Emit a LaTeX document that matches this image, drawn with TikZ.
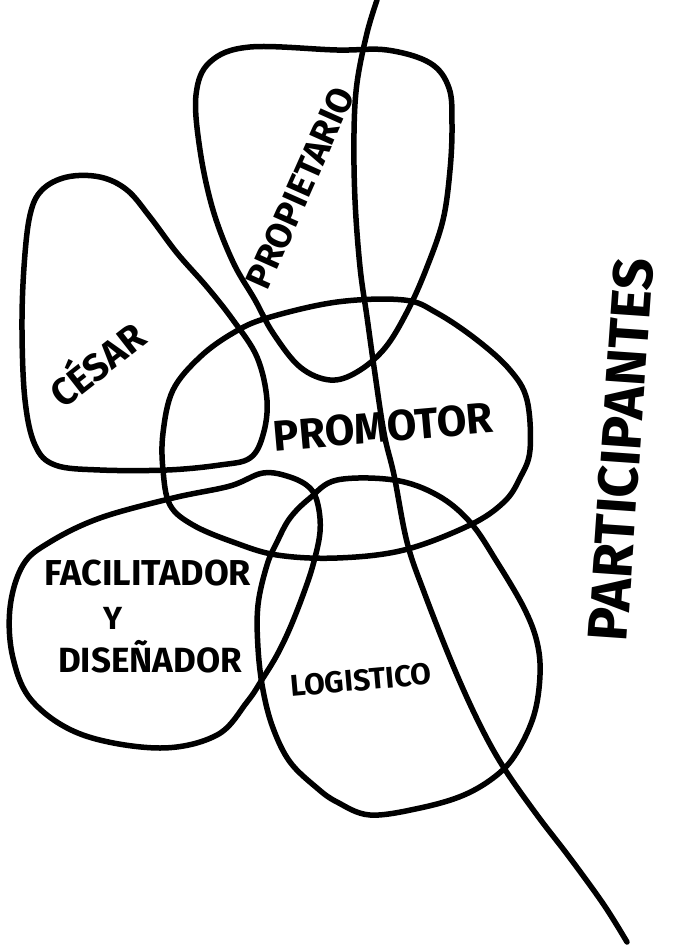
\documentclass[tikz,border=0pt]{standalone}
\usepackage{fontspec}
\setmainfont{Fira Sans}

\begin{document}
\begin{tikzpicture}[
  x=1pt, y=-1pt,
  blob/.style={line width=5.5pt, line join=round, line cap=round},
  tag/.style={inner sep=0pt, font=\bfseries\fontsize{#1}{#1}\selectfont},
]
\useasboundingbox (0,0) rectangle (674,951);

% shapes
\draw[blob] plot[smooth cycle, tension=0.6] coordinates {
  (250,47) (337,50) (387,50) (430,63) (449,88) (452,125) (450,170)
  (443,220) (427,267) (408,310) (385,348) (357,372) (330,380) (300,367)
  (273,333) (255,300) (233,262) (213,210) (200,150) (196,95) (210,62)};
\draw[blob] plot[smooth cycle, tension=0.6] coordinates {
  (67,177) (100,177) (127,190) (150,217) (177,253) (207,287) (233,320)
  (257,357) (267,400) (263,435) (250,458) (220,465) (167,470) (100,470)
  (55,465) (35,445) (25,400) (22,330) (24,267) (30,215) (42,190)};
\draw[blob] plot[smooth cycle, tension=0.6] coordinates {
  (337,302) (404,300) (437,313) (477,340) (510,370) (527,400) (530,450)
  (520,478) (504,502) (470,525) (404,550) (337,558) (277,555) (233,542)
  (193,525) (170,505) (163,470) (163,433) (173,390) (200,357) (233,333)
  (267,318)};
\draw[blob] plot[smooth cycle, tension=0.6] coordinates {
  (230,486) (263,473) (290,477) (310,488) (318,505) (320,532) (313,565)
  (303,595) (290,628) (277,655) (263,678) (247,702) (217,735) (160,748)
  (83,735) (33,702) (13,658) (10,608) (23,565) (50,542) (100,518)
  (173,498)};
\draw[blob] plot[smooth cycle, tension=0.6] coordinates {
  (337,480) (394,480) (437,495) (470,522) (497,562) (524,608) (537,642)
  (540,675) (534,715) (517,752) (497,775) (464,795) (420,808) (370,815)
  (337,802) (317,788) (290,762) (273,728) (263,690) (258,648) (258,605)
  (267,565) (277,542) (290,518) (310,498)};
\draw[blob] plot[smooth, tension=0.6] coordinates {
  (377,0) (367,33) (357,83) (354,133) (355,200) (360,267) (367,317)
  (374,367) (384,433) (394,475) (407,542) (424,592) (454,668) (480,725)
  (504,768) (537,815) (570,858) (604,905) (627,942)};

% labels
\node[tag=36, rotate=66] (propietario) at (300,188) {PROPIETARIO};
\node[tag=38, rotate=38] (cesar) at (95,362) {CÉSAR};
\node[tag=43, rotate=5] (promotor) at (383,427) {PROMOTOR};
\node[tag=36] (facilitador) at (148,573) {FACILITADOR};
\node[tag=32] (y) at (113,618) {Y};
\node[tag=35] (disenador) at (150,657) {DISEÑADOR};
\node[tag=30, rotate=5] (logistico) at (361,680) {LOGISTICO};
\node[tag=56, rotate=86] (participantes) at (621,450) {PARTICIPANTES};
\end{tikzpicture}
\end{document}
